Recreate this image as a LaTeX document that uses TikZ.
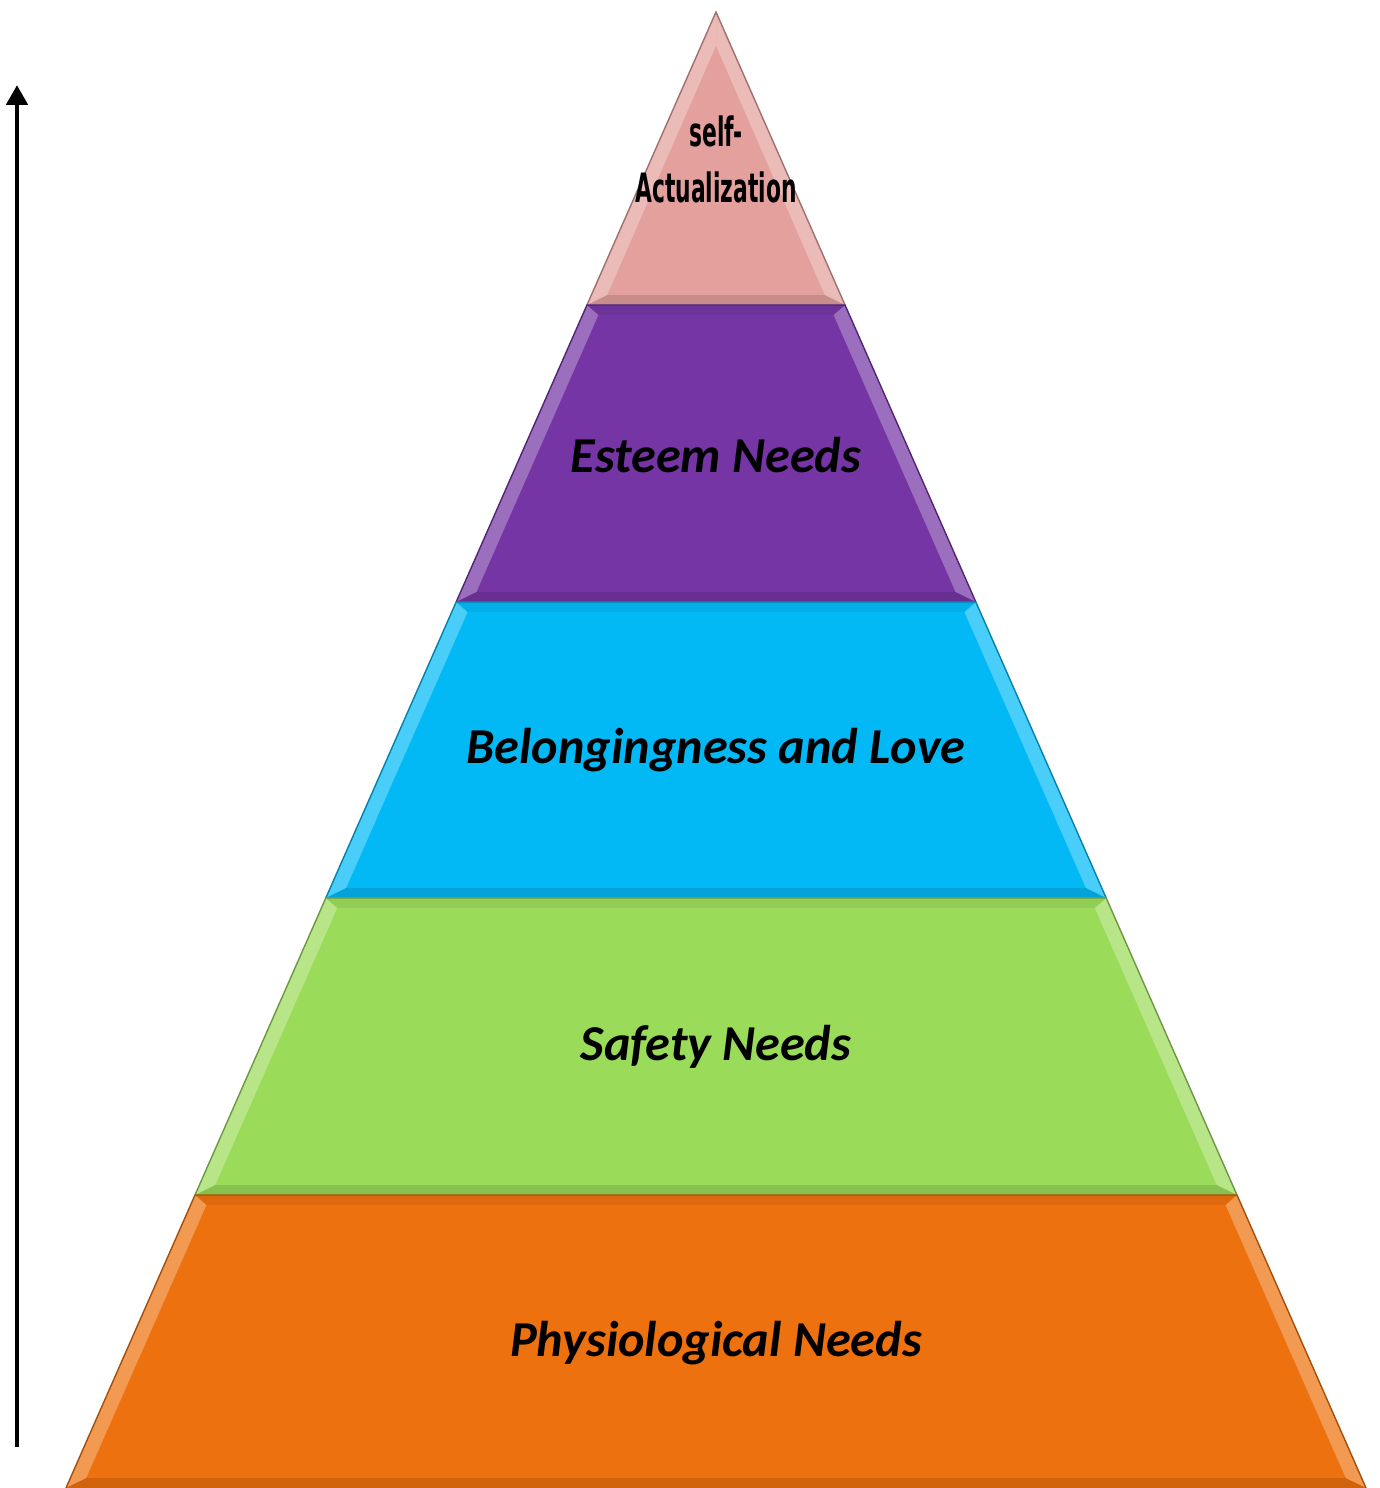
\documentclass[tikz,border=0pt]{standalone}
\usepackage{fontspec}
\setmainfont{Carlito}
\newfontfamily\narrowfont[FakeStretch=0.54]{DejaVu Sans}
\usetikzlibrary{positioning}
\usetikzlibrary{arrows.meta}
\definecolor{topcol}{HTML}{E3A09D}
\definecolor{esteemcol}{HTML}{7535A5}
\definecolor{lovecol}{HTML}{02B9F6}
\definecolor{safecol}{HTML}{9BDB5A}
\definecolor{physcol}{HTML}{ED710F}
\tikzset{
	every node/.style = {font=\bfseries\itshape\fontsize{14.3}{17}\selectfont},
	toplabel/.style = {font=\narrowfont\bfseries\fontsize{11.5}{14}\selectfont}
}
\begin{document}
\begin{tikzpicture}
	\useasboundingbox (0,0) rectangle (13.8,14.88);
	% layers: top y / bottom y / inner drop / colour
	\foreach \yt/\yb/\dt/\c in {14.76/11.83/0.34/topcol, 11.83/8.86/0.1/esteemcol, 8.86/5.90/0.1/lovecol, 5.90/2.93/0.1/safecol, 2.93/0/0.1/physcol}
	{
		\pgfmathsetmacro\wt{(14.76-\yt)*0.4404}
		\pgfmathsetmacro\wb{(14.76-\yb)*0.4404}
		\pgfmathsetmacro\iwt{max((14.76-\yt+\dt)*0.4404-0.16,0)}
		\pgfmathsetmacro\iwb{(14.76-\yb-0.1)*0.4404-0.16}
		% outer edge
		\fill[\c!72!white] (7.16-\wb,\yb) -- (7.16-\wt,\yt) -- (7.16+\wt,\yt) -- (7.16+\wb,\yb) -- cycle;
		% bottom and top bevel
		\fill[\c!88!black] (7.16-\wb,\yb) -- (7.16+\wb,\yb) -- (7.16+\iwb,\yb+0.1) -- (7.16-\iwb,\yb+0.1) -- cycle;
		\fill[\c!94!black] (7.16-\wt,\yt) -- (7.16+\wt,\yt) -- (7.16+\iwt,\yt-\dt) -- (7.16-\iwt,\yt-\dt) -- cycle;
		% inner face
		\fill[\c] (7.16-\iwb,\yb+0.1) -- (7.16-\iwt,\yt-\dt) -- (7.16+\iwt,\yt-\dt) -- (7.16+\iwb,\yb+0.1) -- cycle;
		\draw[\c!70!black, line width=0.4pt] (7.16-\wb,\yb) -- (7.16-\wt,\yt) -- (7.16+\wt,\yt) -- (7.16+\wb,\yb);
	}
	
	% labels
	\node[toplabel] (self) at (7.16,13.57) {self-};
	\node[toplabel] (actual) at (7.16,13.01) {Actualization};
	\node (esteem) at (7.16,10.33) {Esteem Needs};
	\node (love) at (7.16,7.38) {Belongingness and Love};
	\node (safety) at (7.16,4.41) {Safety Needs};
	\node (phys) at (7.16,1.45) {Physiological Needs};
	
	% arrow
	\coordinate (foot) at (0.17,0.41);
	\coordinate (tip) at (0.17,14.03);
	\draw[line width=1.4pt, -{Triangle[length=0.2cm,width=0.21cm]}] (foot) -- (tip);
\end{tikzpicture}
\end{document}
